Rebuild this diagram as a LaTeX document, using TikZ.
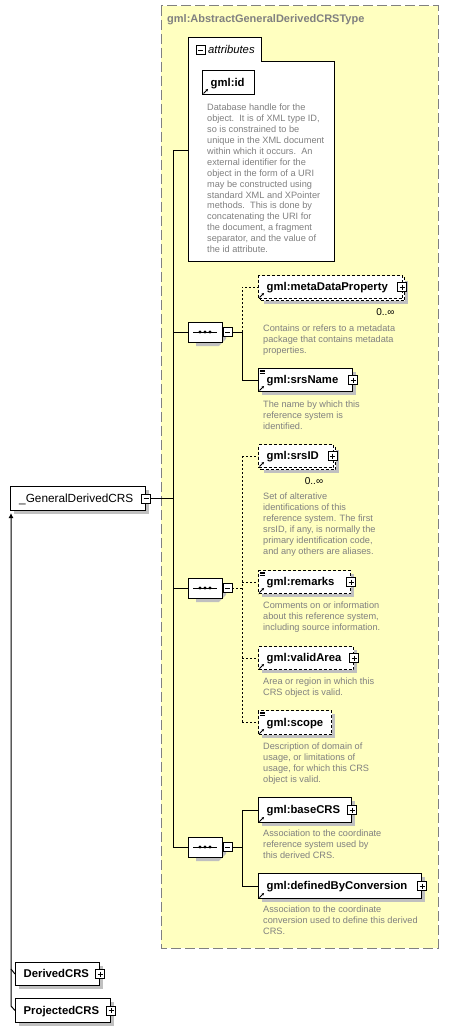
\documentclass[tikz,border=0pt]{standalone}
\usepackage{fontspec}
\setmainfont{Liberation Sans}
\usetikzlibrary{shapes.misc,arrows.meta}
\definecolor{bgyellow}{RGB}{255,255,192}
\definecolor{framegray}{RGB}{128,128,128}
\definecolor{descgray}{RGB}{128,128,128}
\definecolor{shadowgray}{RGB}{192,192,192}
\tikzset{
  shadowline/.style={draw=shadowgray, line width=4pt, line join=miter, line cap=butt},
  boxbase/.style={draw=black, fill=white, line width=1pt, anchor=north west, inner sep=0pt},
  elembox/.style={boxbase},
  optbox/.style={boxbase, dash pattern=on 3pt off 2pt},
  nametext/.style={anchor=base west, inner sep=0pt, font=\bfseries\fontsize{11.3}{13}\selectfont},
  desc/.style={anchor=north west, inner sep=0pt, align=left, text=descgray, font=\fontsize{9.2}{10.9}\selectfont},
  pmbox/.style={draw=black, fill=white, line width=0.8pt, minimum size=9pt, inner sep=0pt},
  plusbox/.style={pmbox, path picture={
      \draw[line width=0.8pt] ([xshift=2pt]path picture bounding box.west) -- ([xshift=-2pt]path picture bounding box.east);
      \draw[line width=0.8pt] ([yshift=-2pt]path picture bounding box.north) -- ([yshift=2pt]path picture bounding box.south);}},
  minusbox/.style={pmbox, path picture={
      \draw[line width=0.8pt] ([xshift=2pt]path picture bounding box.west) -- ([xshift=-2pt]path picture bounding box.east);}},
  seqnode/.style={chamfered rectangle, chamfered rectangle xsep=6pt, minimum width=34pt, minimum height=20pt, inner sep=0pt, line width=1pt, draw=black, fill=white},
  conn/.style={line width=1pt},
  optconn/.style={line width=1pt, dash pattern=on 2pt off 2pt},
  mult/.style={inner sep=0pt, font=\fontsize{10}{12}\selectfont},
}
% shadow strip of a box {x}{y}{w}{h}
\newcommand\boxshadow[4]{\path[shadowline] (#1+#3+2,#2+4) -- (#1+#3+2,#2+#4+2) -- (#1+4,#2+#4+2);}
% shadow strip of a sequence octagon centred at {x}{y}
\newcommand\seqshadow[2]{\path[shadowline] (#1+19,#2-2) -- (#1+19,#2+6) -- (#1+13,#2+12) -- (#1-9,#2+12);}
% box: [style]{name}{x}{y}{w}{h}{text}
\newcommand\xbox[7][elembox]{%
  \node[#1,minimum width=#5pt,minimum height=#6pt] (#2) at (#3,#4) {};
  \node[nametext] (#2-t) at ([xshift=8.5pt,yshift=-3.9pt]#2.west) {#7};}
\newcommand\refarrow[1]{\draw[line width=0.8pt,-{Stealth[length=2.5pt,width=2.5pt]}] ([xshift=1.5pt,yshift=1.5pt]#1.south west) -- ++(4.5,-4.5);}
\newcommand\texticon[1]{\foreach \d in {1.8,3.4,5.0} {\draw[line width=0.6pt] ([xshift=1.5pt,yshift=-\d pt]#1.north west) -- ++(5,0);}}
\newcommand\seqnodeat[3]{%
  \node[seqnode] (#1) at (#2,#3) {};
  \draw[line width=1pt] ([xshift=-12pt]#1.center) -- ([xshift=12pt]#1.center);
  \foreach \dx in {-5,0,5} {\fill ([xshift=\dx pt]#1.center) circle (1.6pt);}}
\begin{document}
\begin{tikzpicture}[x=1pt,y=-1pt]
\useasboundingbox (0,0) rectangle (449,1032);
% complex type frame
\draw[framegray, fill=bgyellow, line width=1pt, dash pattern=on 10pt off 4pt] (161,6) rectangle (438,948);
% shadows
\boxshadow{202}{70}{52}{24}
\boxshadow{260}{277}{144}{23}
\boxshadow{258}{368}{94}{23}
\boxshadow{260}{446}{75}{23}
\boxshadow{258}{570}{92}{23}
\boxshadow{258}{646}{95}{23}
\boxshadow{258}{710}{73}{24}
\boxshadow{258}{797}{93}{25}
\boxshadow{258}{873}{163}{25}
\boxshadow{10}{486}{135}{24}
\boxshadow{15}{962}{84}{23}
\boxshadow{15}{998}{95}{24}
\seqshadow{205}{332}
\seqshadow{205}{588}
\seqshadow{205}{847}
\node[anchor=base west, inner sep=0pt, font=\bfseries\fontsize{11}{13}\selectfont, text=framegray] (title) at (167,22.7) {gml:AbstractGeneralDerivedCRSType};
% attributes box
\draw[fill=white, line width=1pt] (188,38) -- (261,38) -- (261,62) -- (334,62) -- (334,261) -- (188,261) -- cycle;
\node[minusbox] (attr-m) at (200.5,50) {};
\node[anchor=base west, inner sep=0pt, font=\itshape\fontsize{11.3}{13}\selectfont] (attr-t) at (208,54) {attributes};
\coordinate (attr-l) at (188,151);
\xbox{id}{202}{70}{52}{24}{gml:id}
\refarrow{id}
\node[desc] (id-d) at (207,104) {Database handle for the\\object.\ \ It is of XML type ID,\\so is constrained to be\\unique in the XML document\\within which it occurs.\ \ An\\external identifier for the\\object in the form of a URI\\may be constructed using\\standard XML and XPointer\\methods.\ \ This is done by\\concatenating the URI for\\the document, a fragment\\separator, and the value of\\the id attribute.};
% sequence 1
\seqnodeat{seq1}{205}{332}
\node[minusbox] (seq1-m) at (227.5,332) {};
\node[optbox, minimum width=144pt, minimum height=23pt] (mdp-b) at (260,277) {};
\xbox[optbox]{mdp}{258}{275}{144}{23}{gml:metaDataProperty}
\refarrow{mdp}
\node[plusbox] (mdp-p) at ([xshift=-1pt]mdp.east) {};
\node[mult] (mdp-mult) at (385.4,312) {0..∞};
\node[desc] (mdp-d) at (263,324.5) {Contains or refers to a metadata\\package that contains metadata\\properties.};
\xbox{srsName}{258}{368}{94}{23}{gml:srsName}
\refarrow{srsName}\texticon{srsName}
\node[plusbox] (srsName-p) at (srsName.east) {};
\node[desc] (srsName-d) at (263,401) {The name by which this\\reference system is\\identified.};
% sequence 2
\seqnodeat{seq2}{205}{588}
\node[minusbox] (seq2-m) at (227.5,588) {};
\node[optbox, minimum width=75pt, minimum height=23pt] (srsID-b) at (260,446) {};
\xbox[optbox]{srsID}{258}{444}{75}{23}{gml:srsID}
\refarrow{srsID}
\node[plusbox] (srsID-p) at ([xshift=-1.5pt]srsID.east) {};
\node[mult] (srsID-mult) at (314,481) {0..∞};
\node[desc] (srsID-d) at (263,493) {Set of alterative\\identifications of this\\reference system. The first\\srsID, if any, is normally the\\primary identification code,\\and any others are aliases.};
\xbox[optbox]{remarks}{258}{570}{92}{23}{gml:remarks}
\refarrow{remarks}\texticon{remarks}
\node[plusbox] (remarks-p) at (remarks.east) {};
\node[desc] (remarks-d) at (263,602) {Comments on or information\\about this reference system,\\including source information.};
\xbox[optbox]{validArea}{258}{646}{95}{23}{gml:validArea}
\refarrow{validArea}
\node[plusbox] (validArea-p) at (validArea.east) {};
\node[desc] (validArea-d) at (263,678) {Area or region in which this\\CRS object is valid.};
\xbox[optbox]{scope}{258}{710}{73}{24}{gml:scope}
\refarrow{scope}\texticon{scope}
\node[desc] (scope-d) at (263,743) {Description of domain of\\usage, or limitations of\\usage, for which this CRS\\object is valid.};
% sequence 3
\seqnodeat{seq3}{205}{847}
\node[minusbox] (seq3-m) at (227.5,847) {};
\xbox{baseCRS}{258}{797}{93}{25}{gml:baseCRS}
\refarrow{baseCRS}
\node[plusbox] (baseCRS-p) at (baseCRS.east) {};
\node[desc] (baseCRS-d) at (263,830) {Association to the coordinate\\reference system used by\\this derived CRS.};
\xbox{dbc}{258}{873}{163}{25}{gml:definedByConversion}
\refarrow{dbc}
\node[plusbox] (dbc-p) at (dbc.east) {};
\node[desc] (dbc-d) at (263,906) {Association to the coordinate\\conversion used to define this derived\\CRS.};
% left element and subtypes
\node[elembox, minimum width=135pt, minimum height=24pt] (gen) at (10,486) {};
\node[anchor=base west, inner sep=0pt, font=\fontsize{11.8}{13}\selectfont] (gen-t) at ([xshift=9pt,yshift=-4pt]gen.west) {\_GeneralDerivedCRS};
\node[minusbox] (gen-m) at (gen.east) {};
\xbox{dcrs}{15}{962}{84}{23}{DerivedCRS}
\node[plusbox] (dcrs-p) at (dcrs.east) {};
\xbox{pcrs}{15}{998}{95}{24}{ProjectedCRS}
\node[plusbox] (pcrs-p) at (pcrs.east) {};
% connectors
\coordinate (jtop) at (173,151);
\coordinate (jbot) at (173,847);
\draw[conn] (jtop) -- (jbot);
\draw[conn] (jtop) -- (attr-l);
\draw[conn] (gen-m.east) -- (gen-m.east -| jtop);
\draw[conn] (seq1.west -| jtop) -- (seq1.west);
\draw[conn] (seq2.west -| jtop) -- (seq2.west);
\draw[conn] (seq3.west -| jtop) -- (seq3.west);
\coordinate (b1) at (242,332);
\draw[conn] (seq1-m.east) -- (b1);
\draw[optconn] (b1) |- (mdp.west);
\draw[conn] (b1) |- (srsName.west);
\coordinate (b2) at (242,588);
\draw[optconn] (seq2-m.east) -- (b2);
\draw[optconn] (srsID.west -| b2) -- (scope.west -| b2);
\draw[optconn] (srsID.west -| b2) -- (srsID.west);
\draw[optconn] (remarks.west -| b2) -- (remarks.west);
\draw[optconn] (validArea.west -| b2) -- (validArea.west);
\draw[optconn] (scope.west -| b2) -- (scope.west);
\coordinate (b3) at (242,847);
\draw[conn] (seq3-m.east) -- (b3);
\draw[conn] (b3) |- (baseCRS.west);
\draw[conn] (b3) |- (dbc.west);
% inheritance
\coordinate (inh-d) at (11,969);
\coordinate (inh-p) at (11,1006);
\coordinate (inh-top) at (11,513);
\draw[conn] (dcrs.west) -- (inh-d);
\draw[conn, -{Latex[length=5pt,width=5pt]}] (pcrs.west) -- (inh-p) -- (inh-top);
\end{tikzpicture}
\end{document}
